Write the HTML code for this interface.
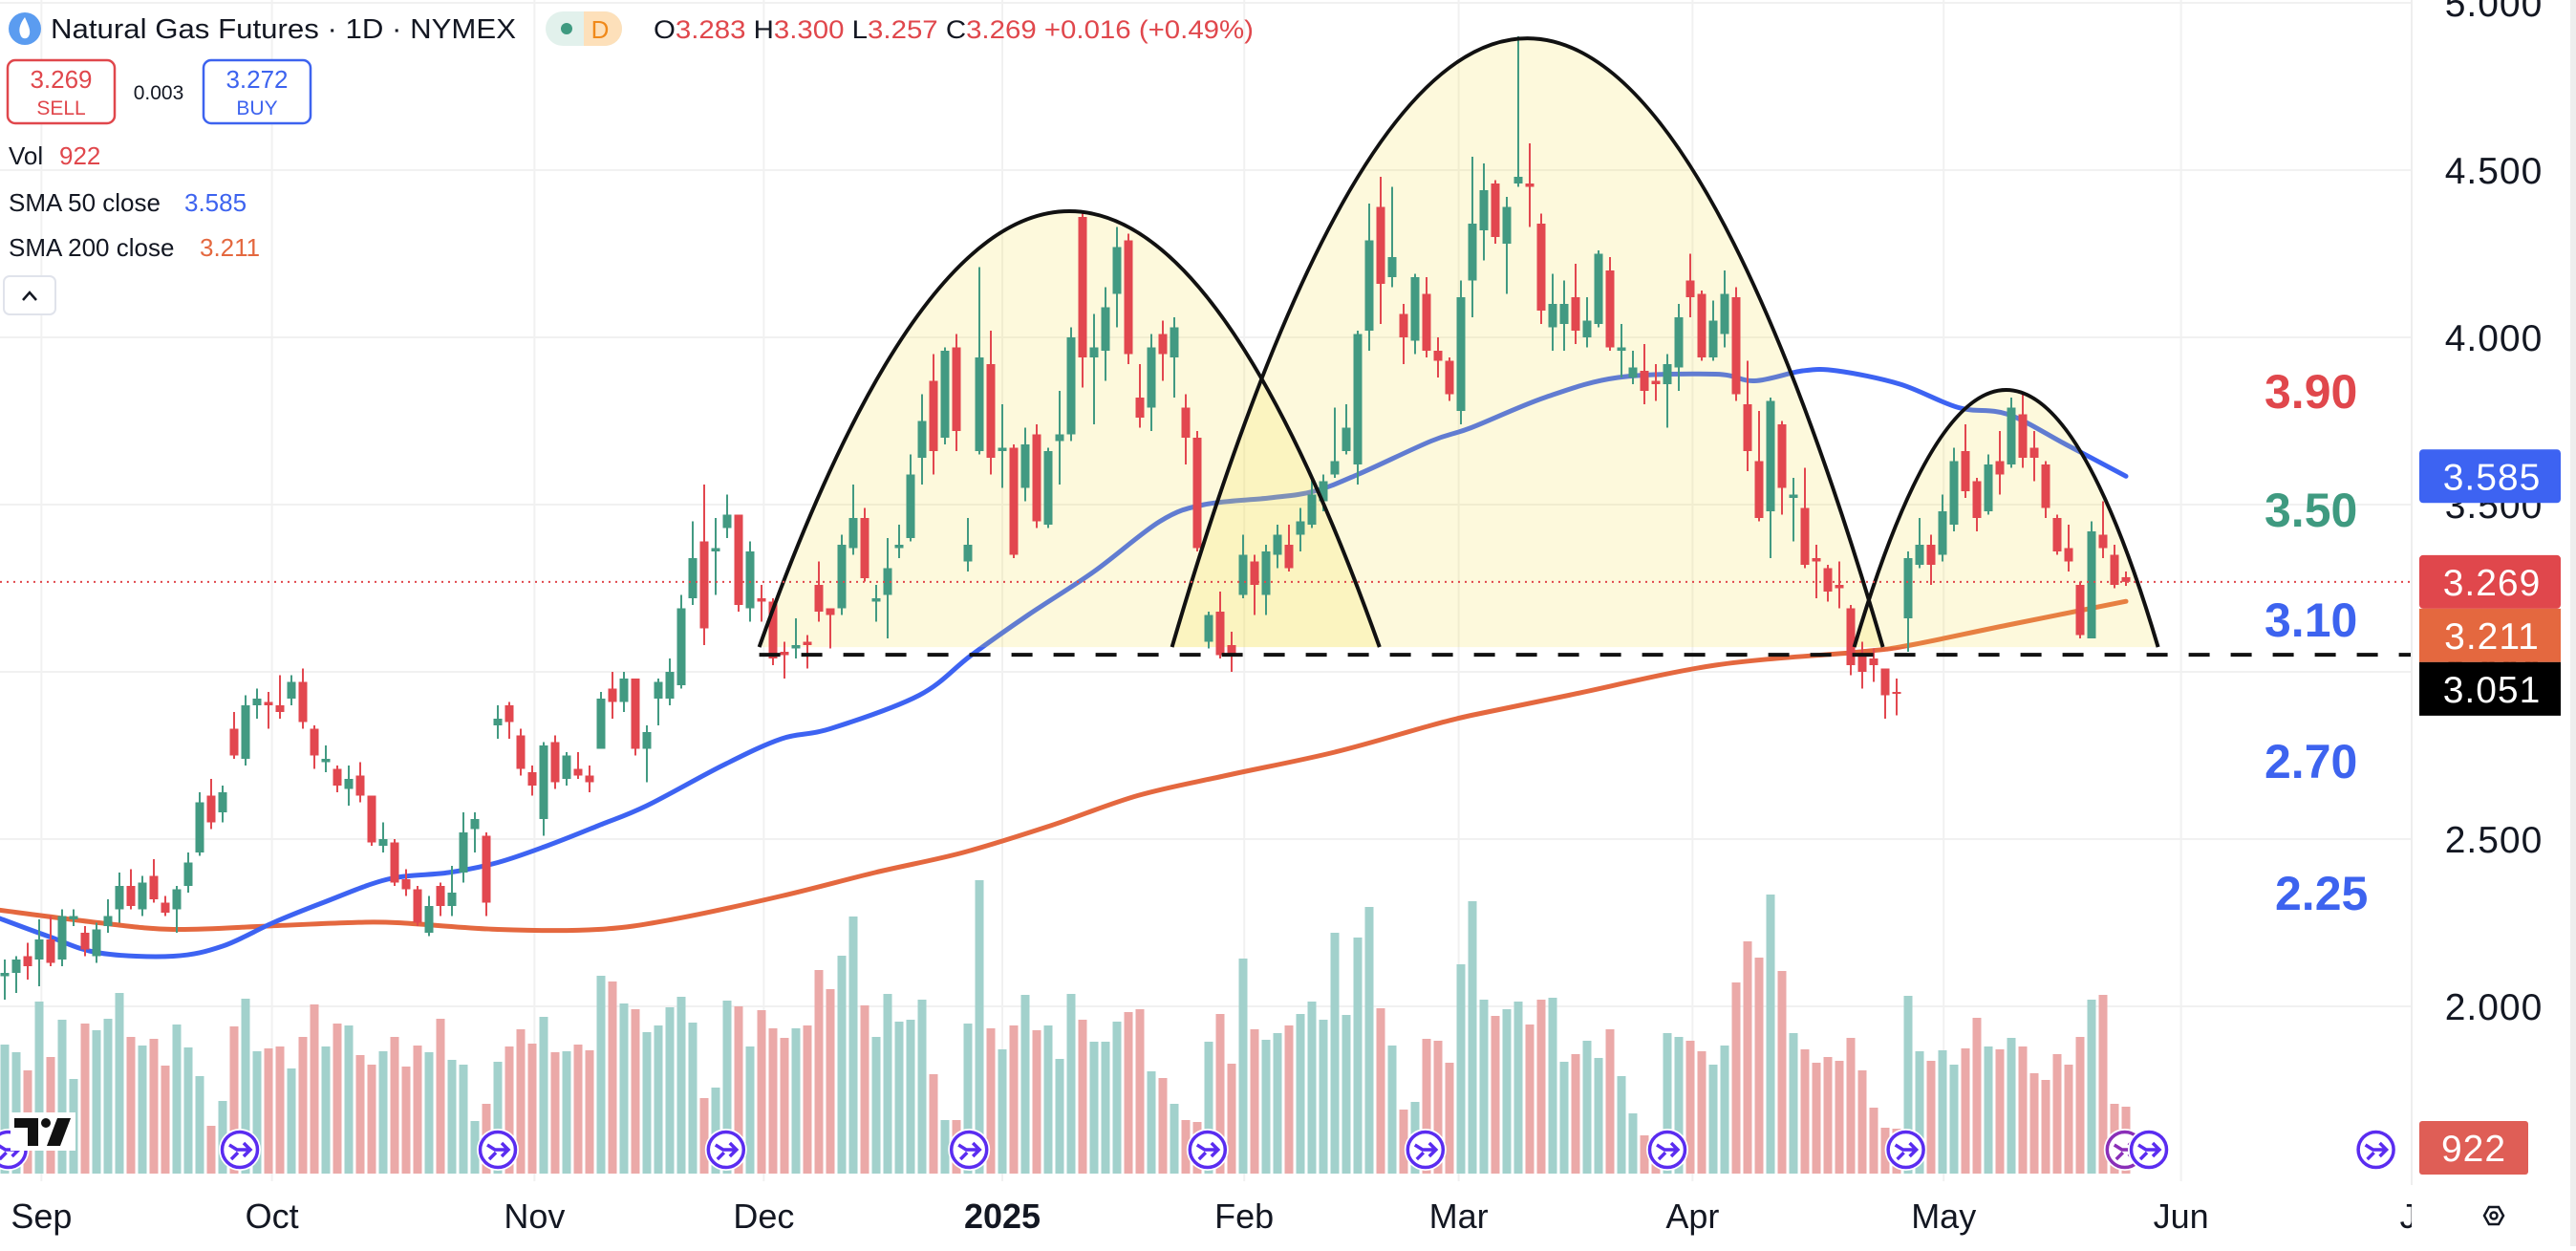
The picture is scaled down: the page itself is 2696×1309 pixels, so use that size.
<!DOCTYPE html>
<html><head><meta charset="utf-8"><title>Natural Gas Futures</title>
<style>
html,body{margin:0;padding:0;background:#fff;}
body{width:2696px;height:1304px;overflow:hidden;font-family:"Liberation Sans",Arial,sans-serif;}
svg text{font-family:"Liberation Sans",Arial,sans-serif;}
</style></head>
<body>
<svg id="chart" xmlns="http://www.w3.org/2000/svg" width="2696" height="1304" viewBox="0 0 2696 1304">
<rect x="0" y="0" width="2696" height="1304" fill="#ffffff"/>
<g id="grid"></g>
<g id="vol"></g>
<g id="sma"></g>
<g id="domeFill"></g>
<g id="candles"></g>
<g id="domeStroke"></g>
<g id="lines"></g>
<g id="events"></g>
<g id="levels">
  <text x="2370" y="427" font-size="50" font-weight="bold" fill="#e0474c">3.90</text>
  <text x="2370" y="551" font-size="50" font-weight="bold" fill="#3f9a80">3.50</text>
  <text x="2370" y="666" font-size="50" font-weight="bold" fill="#3d63ef">3.10</text>
  <text x="2370" y="814" font-size="50" font-weight="bold" fill="#3d63ef">2.70</text>
  <text x="2381" y="952" font-size="50" font-weight="bold" fill="#3d63ef">2.25</text>
</g>
<g id="raxis">
  <rect x="2524" y="0" width="172" height="1304" fill="#ffffff"/>
  <line x1="2524" y1="0" x2="2524" y2="1240" stroke="#eeeeee" stroke-width="2"/>
  <rect x="2690" y="0" width="6" height="1304" fill="#eeeeee"/>
</g>
<g id="taxis"></g>
<g id="header">
  <circle cx="26" cy="30" r="17" fill="#5b9cf0"/>
  <path d="M26 18 C20 26 19 32 22 38 C24 41 28 41 30 38 C33 33 30 27 26 18 Z" fill="#ffffff"/>
  <text x="53" y="40" font-size="29" fill="#131722" textLength="487" lengthAdjust="spacingAndGlyphs">Natural Gas Futures · 1D · NYMEX</text>
  <rect x="571" y="12" width="80" height="36" rx="18" fill="#e2f1ec"/>
  <path d="M611 12 H633 A18 18 0 0 1 633 48 H611 Z" fill="#fde0ba"/>
  <circle cx="593" cy="30" r="6" fill="#3f9a80"/>
  <text x="628" y="40" font-size="26" fill="#f0891a" text-anchor="middle">D</text>
  <text x="684" y="40" font-size="27" fill="#131722" textLength="628" lengthAdjust="spacingAndGlyphs">O<tspan fill="#e0474c">3.283</tspan> H<tspan fill="#e0474c">3.300</tspan> L<tspan fill="#e0474c">3.257</tspan> C<tspan fill="#e0474c">3.269</tspan> <tspan fill="#e0474c">+0.016 (+0.49%)</tspan></text>
  <g>
    <rect x="8" y="63" width="112" height="66" rx="8" fill="#ffffff" stroke="#e0474c" stroke-width="2.5"/>
    <text x="64" y="92" font-size="26" fill="#e0474c" text-anchor="middle">3.269</text>
    <text x="64" y="120" font-size="21" fill="#e0474c" text-anchor="middle">SELL</text>
  </g>
  <text x="166" y="104" font-size="21" fill="#131722" text-anchor="middle">0.003</text>
  <g>
    <rect x="213" y="63" width="112" height="66" rx="8" fill="#ffffff" stroke="#3d63ef" stroke-width="2.5"/>
    <text x="269" y="92" font-size="26" fill="#3d63ef" text-anchor="middle">3.272</text>
    <text x="269" y="120" font-size="21" fill="#3d63ef" text-anchor="middle">BUY</text>
  </g>
  <text x="9" y="172" font-size="26" fill="#131722">Vol <tspan x="62" fill="#e0474c">922</tspan></text>
  <text x="9" y="221" font-size="26" fill="#131722">SMA 50 close <tspan x="193" fill="#3d63ef">3.585</tspan></text>
  <text x="9" y="268" font-size="26" fill="#131722">SMA 200 close <tspan x="209" fill="#e4683f">3.211</tspan></text>
  <g>
    <rect x="4" y="289" width="54" height="40" rx="6" fill="#ffffff" stroke="#e0e3eb" stroke-width="2"/>
    <path d="M24 314 L31 306 L38 314" fill="none" stroke="#131722" stroke-width="2.5"/>
  </g>
</g>
<g id="logo">
  <rect x="11" y="1164" width="68" height="40" fill="#ffffff"/>
  <path d="M15 1170 H40 V1199 H29 V1180 H15 Z" fill="#111111"/>
  <circle cx="48" cy="1175" r="5" fill="#111111"/>
  <path d="M60 1170 H74 L63 1199 H49 Z" fill="#111111"/>
</g>
<g id="badges"></g>
</svg>
<script>
var opens = [2.09,2.10,2.15,2.14,2.20,2.14,2.26,2.22,2.15,2.24,2.29,2.36,2.29,2.39,2.31,2.29,2.36,2.46,2.63,2.58,2.83,2.74,2.90,2.91,2.90,2.92,2.97,2.83,2.73,2.71,2.65,2.69,2.63,2.48,2.49,2.38,2.35,2.22,2.36,2.30,2.40,2.53,2.51,2.84,2.90,2.81,2.70,2.56,2.79,2.68,2.71,2.69,2.77,2.95,2.91,2.98,2.77,2.92,2.92,2.96,3.22,3.39,3.36,3.43,3.47,3.19,3.22,3.21,3.06,3.07,3.09,3.26,3.19,3.19,3.37,3.46,3.21,3.23,3.37,3.40,3.64,3.87,3.70,3.97,3.33,3.66,3.92,3.66,3.67,3.55,3.71,3.44,3.69,3.71,4.36,3.94,3.96,4.13,4.29,3.82,3.79,4.01,3.94,3.79,3.70,3.09,3.18,3.08,3.23,3.33,3.23,3.35,3.38,3.41,3.44,3.51,3.59,3.66,3.62,4.02,4.39,4.18,4.07,3.99,4.13,3.96,3.93,3.78,4.17,4.32,4.46,4.28,4.46,4.46,4.34,4.03,4.04,4.12,4.00,4.04,4.20,3.96,3.88,3.90,3.87,3.86,3.91,4.17,4.13,3.94,4.01,4.12,3.80,3.63,3.48,3.74,3.52,3.49,3.34,3.31,3.26,3.19,3.05,3.04,3.01,2.94,3.16,3.32,3.38,3.35,3.44,3.66,3.57,3.48,3.63,3.62,3.77,3.67,3.62,3.46,3.37,3.26,3.10,3.41,3.35,3.283];
var highs = [2.14,2.15,2.19,2.26,2.27,2.29,2.29,2.24,2.25,2.32,2.40,2.41,2.39,2.44,2.33,2.36,2.46,2.64,2.68,2.66,2.88,2.93,2.95,2.94,2.99,2.99,3.01,2.84,2.78,2.72,2.72,2.73,2.63,2.55,2.50,2.41,2.36,2.33,2.37,2.42,2.58,2.58,2.52,2.90,2.91,2.83,2.72,2.79,2.81,2.76,2.76,2.72,2.94,3.00,3.00,2.98,2.84,2.98,3.04,3.23,3.45,3.56,3.46,3.53,3.47,3.39,3.26,3.22,3.09,3.16,3.11,3.33,3.19,3.41,3.56,3.49,3.26,3.40,3.44,3.65,3.83,3.95,3.97,4.01,3.46,4.21,4.02,3.80,3.68,3.73,3.74,3.67,3.84,4.03,4.38,4.07,4.15,4.33,4.31,3.92,4.01,4.05,4.06,3.83,3.72,3.18,3.24,3.12,3.41,3.35,3.38,3.44,3.44,3.49,3.58,3.59,3.79,3.80,4.02,4.40,4.48,4.45,4.10,4.19,4.18,4.00,3.94,4.17,4.54,4.52,4.47,4.42,4.90,4.58,4.37,4.19,4.17,4.22,4.12,4.26,4.24,4.04,3.96,3.98,3.92,3.95,4.10,4.25,4.14,4.11,4.20,4.15,3.93,3.78,3.82,3.75,3.58,3.61,3.38,3.32,3.33,3.20,3.09,3.07,3.01,2.98,3.36,3.46,3.41,3.53,3.67,3.74,3.58,3.65,3.72,3.82,3.83,3.72,3.63,3.47,3.44,3.27,3.45,3.51,3.38,3.30];
var lows = [2.02,2.04,2.08,2.06,2.12,2.12,2.24,2.15,2.13,2.22,2.25,2.29,2.27,2.31,2.27,2.22,2.34,2.45,2.53,2.55,2.74,2.72,2.86,2.83,2.86,2.90,2.83,2.71,2.70,2.64,2.60,2.61,2.48,2.46,2.36,2.33,2.24,2.21,2.27,2.27,2.37,2.46,2.27,2.80,2.80,2.69,2.63,2.51,2.65,2.66,2.68,2.64,2.77,2.86,2.88,2.75,2.67,2.84,2.90,2.95,3.20,3.08,3.23,3.40,3.18,3.15,3.15,3.02,2.98,3.04,3.01,3.15,3.07,3.17,3.35,3.27,3.15,3.10,3.34,3.39,3.56,3.59,3.68,3.66,3.30,3.65,3.59,3.55,3.34,3.51,3.43,3.43,3.56,3.69,3.85,3.74,3.87,4.03,3.92,3.73,3.72,3.87,3.82,3.62,3.36,3.07,3.04,3.00,3.22,3.17,3.17,3.31,3.30,3.36,3.43,3.48,3.58,3.65,3.56,3.96,4.04,4.15,3.92,3.95,3.94,3.88,3.81,3.74,4.06,4.23,4.28,4.13,4.45,4.33,4.04,3.96,3.96,3.98,3.97,4.03,3.96,3.88,3.86,3.80,3.81,3.73,3.84,4.06,3.93,3.93,3.97,3.81,3.60,3.45,3.34,3.47,3.39,3.31,3.22,3.21,3.19,2.99,2.95,2.97,2.86,2.87,3.06,3.31,3.26,3.33,3.42,3.52,3.42,3.47,3.53,3.61,3.61,3.57,3.46,3.35,3.30,3.10,3.10,3.34,3.25,3.257];
var closes = [2.10,2.14,2.12,2.20,2.13,2.27,2.27,2.17,2.23,2.27,2.36,2.30,2.37,2.32,2.28,2.35,2.43,2.61,2.55,2.64,2.75,2.90,2.92,2.90,2.88,2.97,2.85,2.75,2.74,2.66,2.68,2.63,2.49,2.50,2.37,2.35,2.25,2.30,2.30,2.34,2.52,2.56,2.31,2.86,2.85,2.71,2.66,2.78,2.67,2.75,2.69,2.67,2.92,2.91,2.98,2.77,2.82,2.97,3.00,3.19,3.34,3.13,3.37,3.47,3.20,3.36,3.21,3.04,3.05,3.08,3.08,3.18,3.17,3.38,3.46,3.28,3.22,3.31,3.38,3.59,3.75,3.66,3.96,3.72,3.38,3.94,3.64,3.67,3.35,3.68,3.45,3.66,3.71,4.00,3.94,3.97,4.09,4.27,3.95,3.76,3.97,3.95,4.03,3.70,3.37,3.17,3.05,3.05,3.35,3.26,3.36,3.41,3.31,3.45,3.53,3.57,3.63,3.73,4.01,4.29,4.16,4.24,4.00,4.18,3.96,3.93,3.83,4.12,4.34,4.44,4.30,4.39,4.48,4.45,4.08,4.10,4.10,4.02,4.05,4.25,3.97,3.97,3.91,3.84,3.86,3.92,4.06,4.12,3.94,4.05,4.13,3.83,3.66,3.46,3.81,3.55,3.53,3.32,3.33,3.24,3.25,3.02,3.00,3.02,2.93,2.935,3.34,3.38,3.32,3.48,3.63,3.54,3.46,3.62,3.59,3.79,3.64,3.64,3.49,3.36,3.33,3.11,3.42,3.37,3.26,3.269];
var volumes = [135,127,108,180,122,161,99,157,150,162,189,143,134,141,113,156,132,102,50,76,154,183,128,131,133,110,143,177,133,157,155,124,114,128,143,112,134,127,162,119,114,55,73,117,133,151,136,164,127,128,135,129,207,201,178,172,148,155,174,185,158,79,90,181,175,133,171,152,142,152,155,213,193,228,269,176,143,188,159,161,182,104,56,56,157,307,152,130,155,187,150,155,120,188,161,138,138,159,169,172,107,100,73,56,54,138,167,115,225,151,140,147,155,167,180,161,252,166,247,279,173,134,67,75,141,139,116,219,285,182,165,172,180,156,182,184,117,125,139,121,151,102,63,40,40,147,143,139,128,114,134,200,243,226,292,212,147,130,116,122,118,142,108,69,48,47,186,128,118,129,114,131,163,133,130,142,133,105,98,125,114,143,182,187,73,70];
var sma50Idx = [-1,3.75,8.2,14.7,19,23.4,27.75,33.4,38.7,43,47.3,51.75,56,62.6,67.75,72,79.75,84.3,89.25,95,100.75,104.6,110.3,114.2,118,124.4,127.9,134.3,140.7,149.2,152.6,156.8,159.8,165.3,170.4,174.7,179.75,185];
var sma50Val = [2.27,2.21,2.16,2.15,2.18,2.25,2.31,2.38,2.40,2.43,2.48,2.54,2.60,2.72,2.80,2.83,2.93,3.05,3.17,3.30,3.45,3.50,3.52,3.54,3.59,3.69,3.73,3.82,3.88,3.89,3.87,3.90,3.90,3.86,3.79,3.77,3.68,3.585];
var sma200Idx = [-1,8.2,14.7,22.9,29.9,34.25,43,51.75,58.25,67.75,75.9,83.6,91.2,98.8,106.5,116,124.4,127.9,136.4,149.2,161.9,166.2,174.7,185];
var sma200Val = [2.29,2.25,2.23,2.24,2.25,2.25,2.23,2.23,2.26,2.33,2.40,2.46,2.54,2.63,2.69,2.76,2.84,2.87,2.93,3.02,3.06,3.08,3.14,3.211];
var domeStart = [65.8,101.8,161.3];
var domeEnd = [119.9,163.8,187.8];
var domeApex = [4.377,4.894,3.843];
var domeBase = 3.074;
var necklinePrice = 3.051;
var necklineStartIdx = 65.8;
var lastPrice = 3.269;
var priceTicks = [5.0,4.5,4.0,3.5,3.0,2.5,2.0];
var priceTickLabels = ['5.000','4.500','4.000','3.500','3.000','2.500','2.000'];
var monthLabels = ['Sep','Oct','Nov','Dec','2025','Feb','Mar','Apr','May','Jun','Jul'];
var monthIdx = [3.2,23.3,46.2,66.2,87,108.1,126.8,147.2,169.1,189.8,210.8];
var eventIdx = [0.3,20.5,43,62.9,84.1,104.9,123.9,145,165.8,184.9,187,206.8];

var PLOT_RIGHT = 2524;
function xS(i){ return 5 + 12*i; }
function yS(p){ return 703 - (p-3)*350; }
var VOL_BASE = 1228;
function vS(v){ return v*1.0; }
var NS = 'http://www.w3.org/2000/svg';
function mk(tag, attrs, parent){
  var e = document.createElementNS(NS, tag);
  for (var k in attrs) e.setAttribute(k, attrs[k]);
  parent.appendChild(e);
  return e;
}
var G = function(id){ return document.getElementById(id); };

var grid = G('grid');
priceTicks.forEach(function(p){
  var l = mk('line', {x1:0, x2:PLOT_RIGHT, y1:yS(p), y2:yS(p), stroke:'#f1f1f1', 'stroke-width':2}, grid);
  
  
});
monthIdx.forEach(function(i){
  var x = xS(i);
  if (x > PLOT_RIGHT) return;
  var l = mk('line', {x1:x, x2:x, y1:0, y2:1236, stroke:'#f1f1f1', 'stroke-width':2}, grid);
  
  
});

var vol = G('vol');
volumes.forEach(function(v, i){
  var up = closes[i] >= opens[i];
  var h = vS(v);
  var r = mk('rect', {x:xS(i)-4.5, y:VOL_BASE-h, width:9, height:h, fill: up ? '#a2d1cc' : '#eba9a8'}, vol);
  
  
});

function smoothPath(idx, val){
  var pts = idx.map(function(i, k){ return [xS(i), yS(val[k])]; });
  var d = 'M' + pts[0][0].toFixed(1) + ' ' + pts[0][1].toFixed(1);
  for (var k = 0; k < pts.length - 1; k++){
    var p0 = pts[Math.max(k-1,0)], p1 = pts[k], p2 = pts[k+1], p3 = pts[Math.min(k+2, pts.length-1)];
    var c1x = p1[0] + (p2[0]-p0[0])/6, c1y = p1[1] + (p2[1]-p0[1])/6;
    var c2x = p2[0] - (p3[0]-p1[0])/6, c2y = p2[1] - (p3[1]-p1[1])/6;
    d += ' C' + c1x.toFixed(1) + ' ' + c1y.toFixed(1) + ' ' + c2x.toFixed(1) + ' ' + c2y.toFixed(1) + ' ' + p2[0].toFixed(1) + ' ' + p2[1].toFixed(1);
  }
  return d;
}
var sma = G('sma');
var s200 = mk('path', {d:smoothPath(sma200Idx, sma200Val), fill:'none', stroke:'#e4683f', 'stroke-width':5, 'stroke-linejoin':'round', 'stroke-linecap':'round'}, sma);


var s50 = mk('path', {d:smoothPath(sma50Idx, sma50Val), fill:'none', stroke:'#3d63f2', 'stroke-width':5, 'stroke-linejoin':'round', 'stroke-linecap':'round'}, sma);



var dFill = G('domeFill'), dStroke = G('domeStroke');
domeStart.forEach(function(s, k){
  var x0 = xS(s), x1 = xS(domeEnd[k]), cx = (x0+x1)/2;
  var yb = yS(domeBase), ya = yS(domeApex[k]);
  var cy = 2*ya - yb;
  var d = 'M' + x0 + ' ' + yb + ' Q' + cx + ' ' + cy + ' ' + x1 + ' ' + yb;
  var f = mk('path', {d:d + ' Z', fill:'rgba(245,225,80,0.2)', stroke:'none'}, dFill);
  
  
  var o = mk('path', {d:d, fill:'none', stroke:'#111111', 'stroke-width':4}, dStroke);
  
  
});

var cg = G('candles');
opens.forEach(function(o, i){
  var c = closes[i], up = c >= o;
  var col = up ? '#429a82' : '#e2474f';
  var x = xS(i);
  var g = mk('g', {}, cg);
  
  
  mk('line', {x1:x, x2:x, y1:yS(highs[i]), y2:yS(lows[i]), stroke:col, 'stroke-width':2}, g);
  var top = yS(Math.max(o,c)), bot = yS(Math.min(o,c));
  var h = Math.max(bot-top, 2);
  mk('rect', {x:x-4.5, y:top, width:9, height:h, fill:col}, g);
});

var lg = G('lines');
var neck = mk('line', {x1:xS(necklineStartIdx), x2:PLOT_RIGHT, y1:yS(necklinePrice), y2:yS(necklinePrice), stroke:'#111111', 'stroke-width':4, 'stroke-dasharray':'22 22'}, lg);


var lp = mk('line', {x1:0, x2:PLOT_RIGHT, y1:yS(lastPrice), y2:yS(lastPrice), stroke:'#e0474c', 'stroke-width':2, 'stroke-dasharray':'2 5'}, lg);



var ev = G('events');
eventIdx.forEach(function(i, k){
  var x = xS(i), y = 1203;
  var g = mk('g', {}, ev);
  
  
  var col = (k === 9) ? '#8a2fb8' : '#5a2cf0';
  mk('circle', {cx:x, cy:y, r:22, fill:'#ffffff'}, g);
  mk('circle', {cx:x, cy:y, r:18.5, fill:'#ffffff', stroke:col, 'stroke-width':3.5}, g);
  mk('path', {d:'M'+(x-11)+' '+(y-5)+' L'+(x-3)+' '+(y)+' H'+(x+10)+' M'+(x+4)+' '+(y-7)+' L'+(x+11)+' '+y+' L'+(x+4)+' '+(y+7)+' M'+(x-2)+' '+(y+3)+' L'+(x-9)+' '+(y+10), fill:'none', stroke:col, 'stroke-width':3.5}, g);
});

var ta = G('taxis');
var clip = mk('clipPath', {id:'tclip'}, ta);
mk('rect', {x:0, y:1236, width:PLOT_RIGHT, height:68}, clip);
var tg = mk('g', {'clip-path':'url(#tclip)'}, ta);
monthLabels.forEach(function(m, k){
  var t = mk('text', {x:xS(monthIdx[k]), y:1285, 'font-size':36, fill:'#131722', 'text-anchor':'middle', 'font-weight': m === '2025' ? 'bold' : 'normal'}, tg);
  t.textContent = m;
  
  
});
var gear = mk('g', {}, ta);


mk('path', {d:'M2600 1272 L2605 1263 H2615 L2620 1272 L2615 1281 H2605 Z', fill:'none', stroke:'#131722', 'stroke-width':2.5}, gear);
mk('circle', {cx:2610, cy:1272, r:3.5, fill:'none', stroke:'#131722', 'stroke-width':2.5}, gear);

var ra = G('raxis');
priceTicks.forEach(function(p, k){
  var t = mk('text', {x:2610, y:yS(p)+14, 'font-size':39, fill:'#131722', 'text-anchor':'middle', 'letter-spacing':'1'}, ra);
  t.textContent = priceTickLabels[k];
  
  
});

var bg = G('badges');
var badgeText = ['3.585','3.269','3.211','3.051'];
var badgeColor = ['#3d63f2','#e0474c','#e4683f','#000000'];
var badgeName = ['sma50-badge','last-price-badge','sma200-badge','neckline-badge'];
var badgeCenter = [yS(3.585), yS(3.269), yS(3.269)+56, yS(3.269)+112];
badgeText.forEach(function(tx, k){
  var g = mk('g', {}, bg);
  
  
  mk('rect', {x:2532, y:badgeCenter[k]-28, width:148, height:56, rx:(k===0||k===1)?4:0, fill:badgeColor[k]}, g);
  var t = mk('text', {x:2608, y:badgeCenter[k]+14, 'font-size':39, fill:'#ffffff', 'text-anchor':'middle', 'letter-spacing':'1'}, g);
  t.textContent = tx;
});
var vb = mk('g', {}, bg);


mk('rect', {x:2532, y:1173, width:114, height:56, rx:3, fill:'#df5e56'}, vb);
var vt = mk('text', {x:2589, y:1215, 'font-size':39, fill:'#ffffff', 'text-anchor':'middle', 'letter-spacing':'1'}, vb);
vt.textContent = '922';
</script>
</body></html>
